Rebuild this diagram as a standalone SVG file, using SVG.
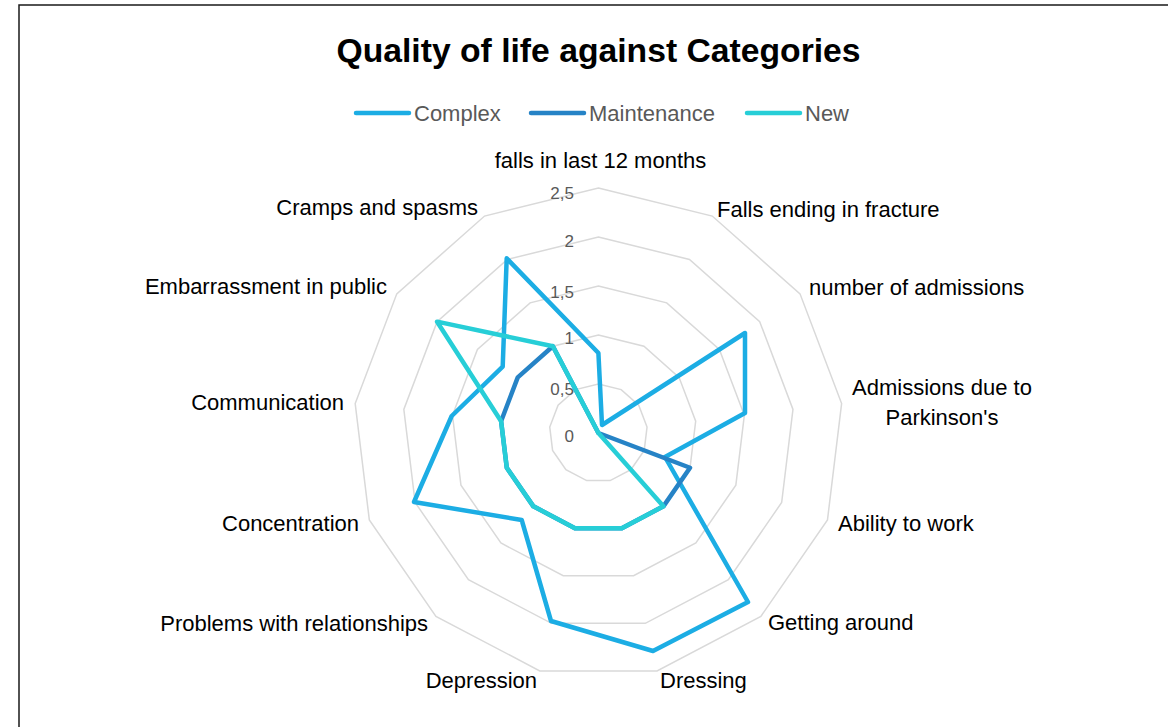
<svg xmlns="http://www.w3.org/2000/svg" width="1168" height="727" viewBox="0 0 1168 727">
<style>
.grid{fill:none;stroke:#D9D9D9;stroke-width:1.5}
.ser{fill:none;stroke-width:4.5;stroke-linejoin:round;stroke-linecap:round}
.c{stroke:#1CADE4}
.m{stroke:#2683C6}
.n{stroke:#27CED7}
.lab{font-family:"Liberation Sans",Arial,sans-serif;font-size:22px;fill:#000}
.tick{font-family:"Liberation Sans",Arial,sans-serif;font-size:17px;fill:#595959;text-anchor:end}
.leg{font-family:"Liberation Sans",Arial,sans-serif;font-size:22px;fill:#595959}
.title{font-family:"Liberation Sans",Arial,sans-serif;font-size:33.7px;font-weight:bold;fill:#000;text-anchor:middle}
</style>
<rect x="0" y="0" width="1168" height="727" fill="#fff"/>
<rect x="19" y="5" width="1170" height="740" fill="none" stroke="#1a1a1a" stroke-width="1.5"/>
<text class="title" x="598.5" y="62">Quality of life against Categories</text>
<g id="legend">
<line class="ser c" x1="356" y1="113" x2="409" y2="113"/>
<text class="leg" x="414" y="121">Complex</text>
<line class="ser m" x1="531" y1="113" x2="584" y2="113"/>
<text class="leg" x="589" y="121">Maintenance</text>
<line class="ser n" x1="747" y1="113" x2="800" y2="113"/>
<text class="leg" x="805" y="121">New</text>
</g>
<g id="grid">
<polygon class="grid" points="598.4,384 621.17,389.61 638.73,405.16 647.04,427.09 644.22,450.38 630.89,469.68 610.13,480.58 586.67,480.58 565.91,469.68 552.58,450.38 549.76,427.09 558.07,405.16 575.63,389.61"/>
<polygon class="grid" points="598.4,335 643.94,346.22 679.05,377.33 695.69,421.19 690.03,467.75 663.39,506.35 621.85,528.15 574.95,528.15 533.41,506.35 506.77,467.75 501.11,421.19 517.75,377.33 552.86,346.22"/>
<polygon class="grid" points="598.4,286 666.71,302.84 719.38,349.5 744.33,415.28 735.85,485.13 695.88,543.03 633.58,575.73 563.22,575.73 500.92,543.03 460.95,485.13 452.47,415.28 477.42,349.5 530.09,302.84"/>
<polygon class="grid" points="598.4,237 689.49,259.45 759.7,321.66 792.97,409.37 781.66,502.5 728.37,579.71 645.31,623.3 551.49,623.3 468.43,579.71 415.14,502.5 403.83,409.37 437.1,321.66 507.31,259.45"/>
<polygon class="grid" points="598.4,188 712.26,216.06 800.03,293.83 841.61,403.47 827.48,519.88 760.86,616.38 657.03,670.88 539.77,670.88 435.94,616.38 369.32,519.88 355.19,403.47 396.77,293.83 484.54,216.06"/>
</g>
<g id="ticks">
<text class="tick" x="574" y="199">2,5</text>
<text class="tick" x="574" y="247">2</text>
<text class="tick" x="574" y="298">1,5</text>
<text class="tick" x="574" y="344">1</text>
<text class="tick" x="574" y="395">0,5</text>
<text class="tick" x="574" y="442">0</text>
</g>
<g id="series">
<polygon id="complex" class="ser c" points="598.4,353 602,425 745,333 745,413 665,457 748,602 653,651 551,621 521.7,520 414,502 451.7,416 502.7,366.7 506.7,258.3"/>
<polygon id="maintenance" class="ser m" points="598.4,433 598.4,433 598.4,433 598.4,433 690.03,467.75 663.39,506.35 621.85,528.15 574.95,528.15 533.41,506.35 506.77,467.75 501.11,421.19 517.75,377.33 552.86,346.22"/>
<polygon id="new" class="ser n" points="598.4,433 663.39,506.35 621.85,528.15 574.95,528.15 533.41,506.35 506.77,467.75 501.11,421.19 437.1,321.66 552.86,346.22"/>
</g>
<g id="labels">
<text class="lab" x="600.5" y="168" text-anchor="middle">falls in last 12 months</text>
<text class="lab" x="717" y="217">Falls ending in fracture</text>
<text class="lab" x="809" y="295">number of admissions</text>
<text class="lab" x="942" y="395" text-anchor="middle">Admissions due to</text>
<text class="lab" x="942" y="425" text-anchor="middle">Parkinson's</text>
<text class="lab" x="838" y="531">Ability to work</text>
<text class="lab" x="768" y="630">Getting around</text>
<text class="lab" x="660" y="688">Dressing</text>
<text class="lab" x="537" y="688" text-anchor="end">Depression</text>
<text class="lab" x="428" y="631" text-anchor="end">Problems with relationships</text>
<text class="lab" x="359" y="531" text-anchor="end">Concentration</text>
<text class="lab" x="344" y="410" text-anchor="end">Communication</text>
<text class="lab" x="387" y="294" text-anchor="end">Embarrassment in public</text>
<text class="lab" x="478" y="215" text-anchor="end">Cramps and spasms</text>
</g>
</svg>
